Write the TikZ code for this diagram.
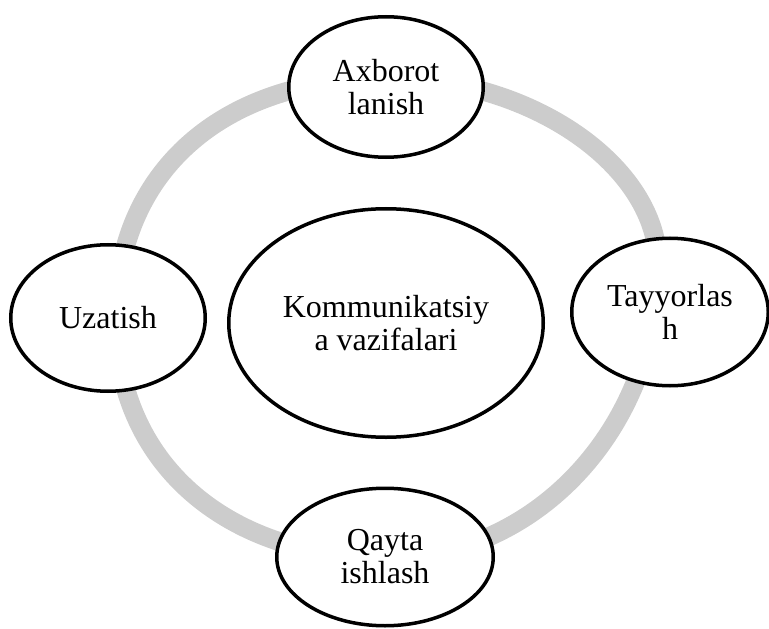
\documentclass[tikz,border=0pt]{standalone}
\usepackage{fontspec}
\setmainfont{Liberation Serif}
\usetikzlibrary{shapes.geometric}
\definecolor{ringgray}{RGB}{204,204,204}
\begin{document}
\begin{tikzpicture}[x=1bp,y=-1bp,
  ringline/.style={draw=ringgray,line width=19bp},
  stage/.style={ellipse,draw=black,line width=3.5bp,fill=white,inner sep=0pt,
    align=center,font=\fontsize{32bp}{33bp}\selectfont}]
\useasboundingbox (0,0) rectangle (769,629);
% extreme points of the grey cycle ring
\coordinate (rT) at (388,78);
\coordinate (rR) at (658,265);
\coordinate (rB) at (388,558);
\coordinate (rL) at (116,318);
% the ring itself, one cubic quarter per side
\draw[ringline] (rT) .. controls (531,78) and (658,166) .. (rR)
  .. controls (658,426) and (537,558) .. (rB)
  .. controls (225,558) and (116,462) .. (rL)
  .. controls (116,172) and (222,78) .. (rT) -- cycle;
% stages of the cycle
\node[stage,minimum width=314.5bp,minimum height=228.5bp] (centre) at (386,323) {Kommunikatsiy\\a vazifalari};
\node[stage,minimum width=194.5bp,minimum height=140.5bp] (top) at (386,87) {Axborot\\lanish};
\node[stage,minimum width=196.5bp,minimum height=147.5bp] (right) at (670,312) {Tayyorlas\\h};
\node[stage,minimum width=216.5bp,minimum height=137.5bp] (bottom) at (385,557) {Qayta\\ishlash};
\node[stage,minimum width=194.5bp,minimum height=146.5bp] (left) at (108,318) {Uzatish};
\end{tikzpicture}
\end{document}
